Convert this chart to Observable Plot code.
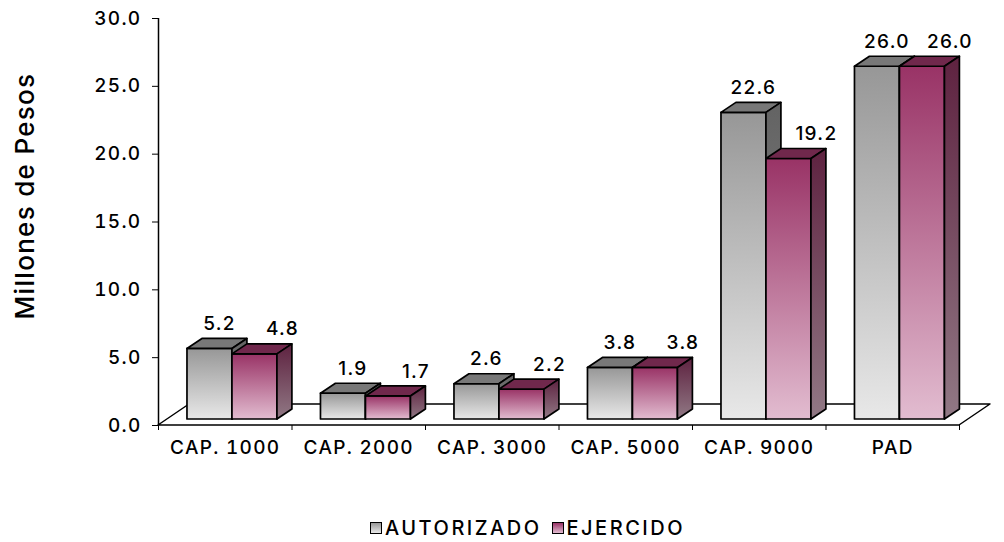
<!DOCTYPE html>
<html>
<head>
<meta charset="utf-8">
<script src="https://cdn.jsdelivr.net/npm/d3@7"></script>
<script src="https://cdn.jsdelivr.net/npm/@observablehq/plot@0.6"></script>
<style>
  html, body { margin: 0; padding: 0; background: #fff; }
  #wrap { position: relative; width: 1004px; height: 542px; overflow: hidden; }
  #chart svg text { letter-spacing: 1.3px; font-weight: 500; }
  #chart svg text.ylab { letter-spacing: 2.3px; }
  #legend { position: absolute; left: 370px; top: 516px; display: flex; align-items: center;
    font-family: Inter, "DejaVu Sans", sans-serif; font-size: 20px; font-weight: 500; color: #000; letter-spacing: 2.5px; }
  .sw { width: 10px; height: 10px; border: 1.5px solid #000; margin-right: 3px; }
</style>
</head>
<body>
<div id="wrap">
  <div id="chart"></div>
  <div id="legend"></div>
</div>
<script>
// ---- data ----
const categories = ["CAP. 1000", "CAP. 2000", "CAP. 3000", "CAP. 5000", "CAP. 9000", "PAD"];
const autorizado = [5.2, 1.9, 2.6, 3.8, 22.6, 26.0];
const ejercido   = [4.8, 1.7, 2.2, 3.8, 19.2, 26.0];
const seriesNames = ["AUTORIZADO", "EJERCIDO"];
const yTicks = [0, 5, 10, 15, 20, 25, 30];
const yLabel = "Millones de Pesos";

// ---- geometry (in scale units) ----
const FONT = 'Inter, "DejaVu Sans", sans-serif';
const GAP = 0.217;     // gap before first bar inside a category band
const BW = 0.337;      // bar width (category units)
const DX = 0.112;      // bar depth, horizontal
const DY = 0.737;      // bar depth, vertical (value units)
const FDX = 0.232, FDY = 1.548; // floor depth
const OFF = {dx: 0, dy: -6};    // bars sit slightly back on the floor

function barData(values, k) {
  return values.map((v, i) => {
    const xl = i + GAP + k * BW;
    return {i, v, xl, xr: xl + BW, cat: categories[i]};
  });
}
const gray = barData(autorizado, 0);
const pink = barData(ejercido, 1);

function sidePts(bars) {
  return bars.flatMap(b => [
    {z: b.i, x: b.xr, y1: 0, y2: b.v},
    {z: b.i, x: b.xr + DX, y1: DY, y2: b.v + DY}
  ]);
}
function topPts(bars) {
  return bars.flatMap(b => [
    {z: b.i, y: b.v, x1: b.xl, x2: b.xr},
    {z: b.i, y: b.v + DY, x1: b.xl + DX, x2: b.xr + DX}
  ]);
}
const floorPts = [
  {y: 0, x1: 0, x2: categories.length},
  {y: FDY, x1: FDX, x2: categories.length + FDX}
];

const stroke = {stroke: "#000", strokeWidth: 1.7, strokeLinejoin: "round"};

function barMarks(bars, front, top, side) {
  return [
    Plot.rect(bars, {x1: "xl", x2: "xr", y1: () => 0, y2: "v", fill: front, ...stroke, ...OFF}),
    Plot.areaX(topPts(bars), {y: "y", x1: "x1", x2: "x2", z: "z", fill: top, ...stroke, ...OFF}),
    Plot.areaY(sidePts(bars), {x: "x", y1: "y1", y2: "y2", z: "z", fill: side, ...stroke, ...OFF})
  ];
}
function labelMark(bars, shift) {
  return Plot.text(bars, {
    x: b => b.xl + BW / 2 + DX / 2, y: b => b.v + DY, text: b => b.v.toFixed(1),
    dy: -21, dx: shift, fontSize: 19, fill: "#000", fontFamily: FONT
  });
}

const chart = Plot.plot({
  width: 1004, height: 500,
  marginLeft: 158, marginRight: 45, marginTop: 18, marginBottom: 75,
  x: {domain: [0, categories.length]},
  y: {domain: [0, 30]},
  style: {fontFamily: FONT, fontSize: "19px", color: "#000", background: "transparent", overflow: "visible"},
  marks: [
    Plot.areaX(floorPts, {y: "y", x1: "x1", x2: "x2", fill: "#fff", stroke: "#000", strokeWidth: 1.5}),
    Plot.ruleX([0], {y1: 0, y2: 30, stroke: "#000", strokeWidth: 1.5}),
    Plot.axisY({ticks: yTicks, tickFormat: d => d.toFixed(1), tickSize: 6, tickPadding: 11, label: null, fontSize: 19}),
    Plot.axisX({ticks: d3.range(categories.length + 1), tickFormat: () => "", tickSize: 5, label: null}),
    Plot.axisX({ticks: categories.map((_, i) => i + 0.5), tickFormat: d => categories[Math.floor(d)],
      tickSize: 0, tickPadding: 15, label: null, fontSize: 19}),
    ...barMarks(gray, "url(#gFront)", "url(#gTop)", "url(#gSide)"),
    ...barMarks(pink, "url(#pFront)", "url(#pTop)", "url(#pSide)"),
    labelMark(gray, 2),
    labelMark(pink, 20),
    Plot.text([yLabel], {text: d => d, frameAnchor: "left", textAnchor: "middle", rotate: -90, dx: -133, dy: -26,
      fontSize: 26, fontFamily: FONT, fill: "#000", className: "ylab"})
  ]
});

// gradients
const defs = d3.select(chart).insert("defs", ":first-child");
function grad(id, c1, c2) {
  const g = defs.append("linearGradient").attr("id", id).attr("x1", 0).attr("y1", 0).attr("x2", 0).attr("y2", 1);
  g.append("stop").attr("offset", "0%").attr("stop-color", c1);
  g.append("stop").attr("offset", "100%").attr("stop-color", c2);
}
grad("gFront", "#979797", "#e8e8e8");
grad("gTop", "#787878", "#787878");
grad("gSide", "#636363", "#8a8a8a");
grad("pFront", "#993366", "#e2bcd0");
grad("pTop", "#70284c", "#70284c");
grad("pSide", "#5e2240", "#917985");

document.getElementById("chart").appendChild(chart);

// legend
const legend = d3.select("#legend");
const swatches = [["#979797", "#e8e8e8"], ["#993366", "#e2bcd0"]];
seriesNames.forEach((name, k) => {
  legend.append("div").attr("class", "sw")
    .style("background", `linear-gradient(${swatches[k][0]}, ${swatches[k][1]})`)
    .style("margin-left", k ? "10px" : "0");
  legend.append("span").text(name);
});
</script>
</body>
</html>
